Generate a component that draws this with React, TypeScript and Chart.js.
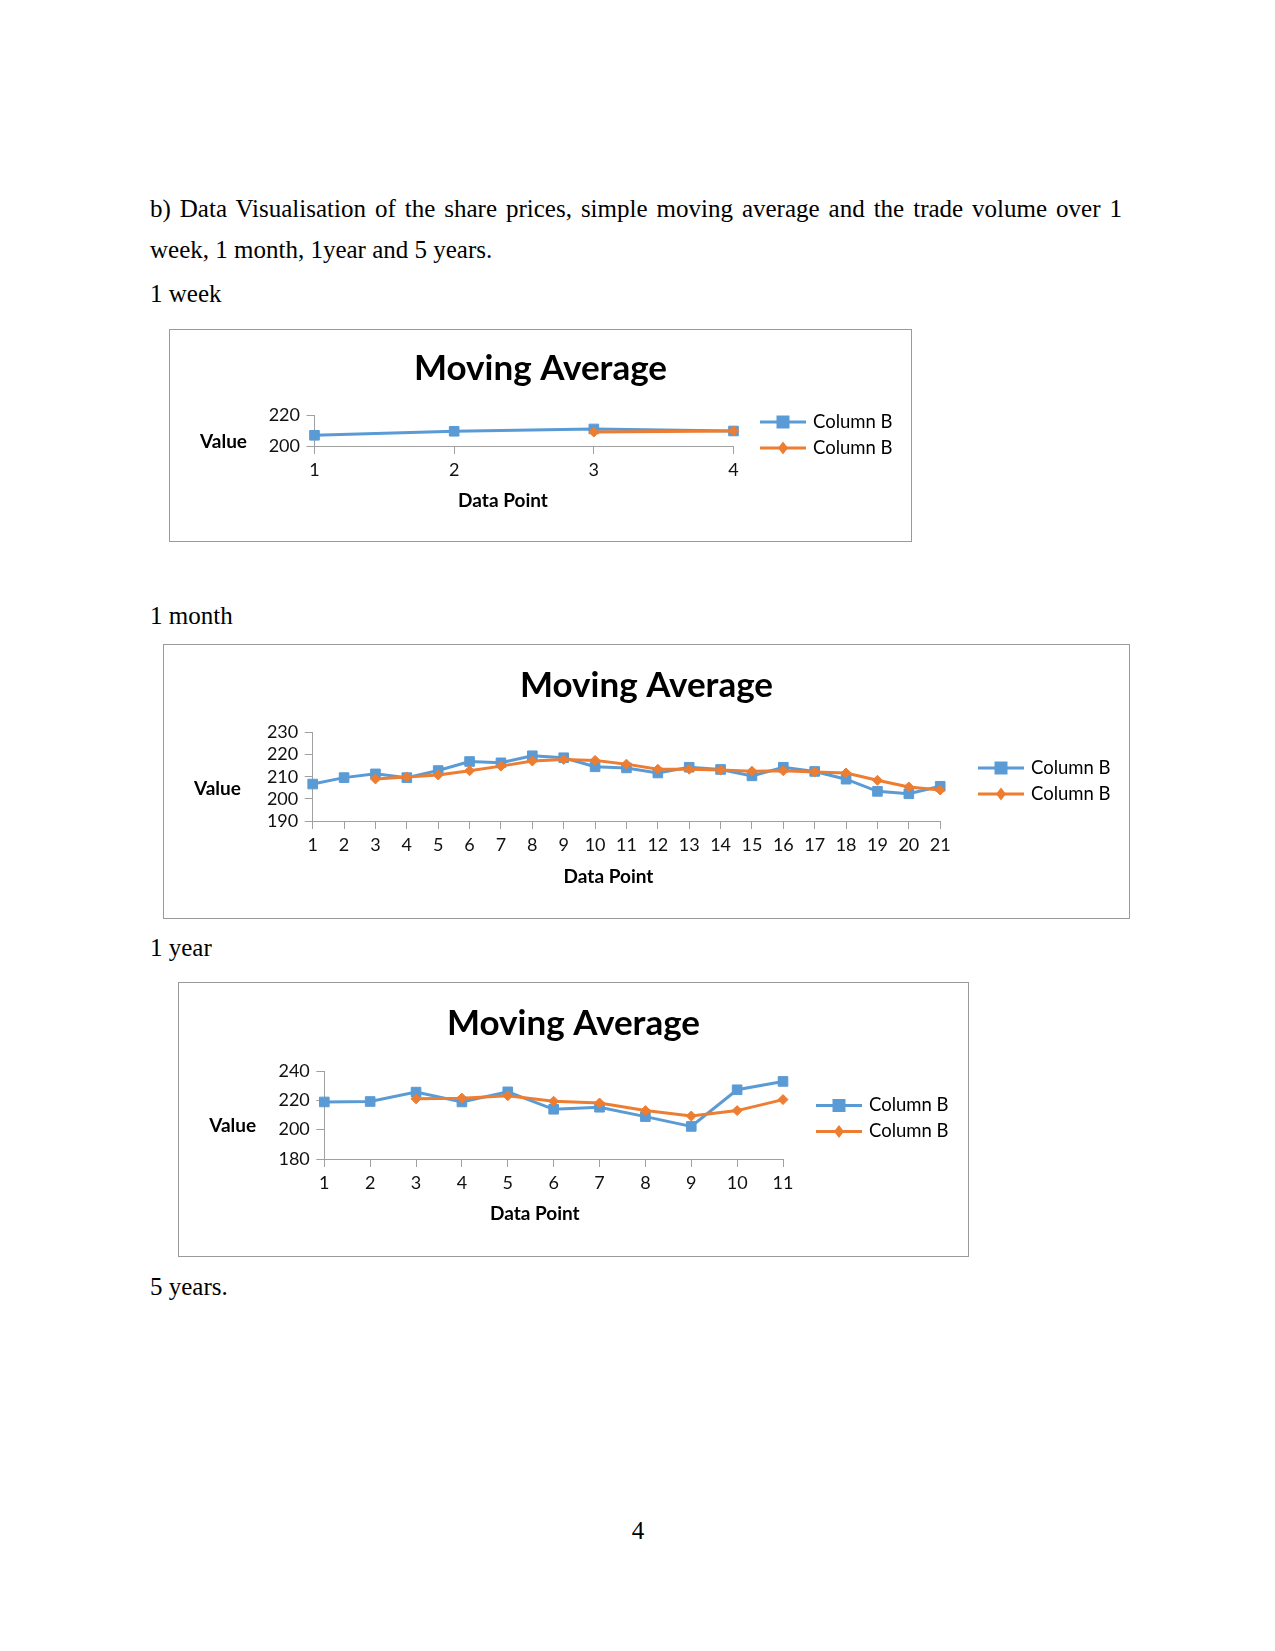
import React, { useEffect, useRef } from "react";
import { Chart, registerables } from "chart.js";

Chart.register(...registerables);

// ---------- data ----------
const seriesNames = ["Column B", "Column B"];
const chartTitle = "Moving Average";
const xAxisTitle = "Data Point";
const yAxisTitle = "Value";

const weekLabels = ["1", "2", "3", "4"];
const weekPrice = [206.9, 209.5, 211.0, 209.7];
const weekMA = [null, null, 209.0, 209.7];
const weekTicks = [200, 220];

const monthLabels = ["1", "2", "3", "4", "5", "6", "7", "8", "9", "10", "11", "12", "13", "14", "15", "16", "17", "18", "19", "20", "21"];
const monthPrice = [206.7, 209.6, 211.3, 209.6, 212.8, 216.9, 216.3, 219.5, 218.6, 214.5, 214.0, 211.7, 214.3, 213.3, 210.4, 214.3, 212.4, 208.9, 203.4, 202.3, 205.7];
const monthMA = [null, null, 209.0, 209.9, 210.8, 212.7, 214.8, 217.1, 217.8, 217.4, 215.7, 213.4, 213.4, 213.0, 212.5, 212.7, 212.2, 211.7, 208.4, 205.4, 204.0];
const monthTicks = [190, 200, 210, 220, 230];

const yearLabels = ["1", "2", "3", "4", "5", "6", "7", "8", "9", "10", "11"];
const yearPrice = [218.9, 219.2, 225.6, 218.9, 225.8, 213.9, 215.3, 208.9, 202.2, 227.2, 232.9];
const yearMA = [null, null, 221.0, 221.5, 223.1, 219.4, 218.2, 213.0, 209.3, 213.0, 220.5];
const yearTicks = [180, 200, 220, 240];

const BLUE = "#5b9bd5";
const ORANGE = "#ed7d31";
const AXIS = "#a0a0a0";
const FONT = "Lato";

type Geo = {
  left: number; top: number; w: number; h: number;
  plotLeft: number; plotRight: number; plotTop: number; plotBottom: number;
  titleY: number; valueX: number; valueY: number; dpX: number; dpY: number;
  legX: number; legY: number[];
};

const weekGeo: Geo = {
  left: 169, top: 329, w: 741, h: 211,
  plotLeft: 144.5, plotRight: 563.5, plotTop: 85, plotBottom: 116,
  titleY: 38.5, valueX: 53.5, valueY: 111.5, dpX: 333, dpY: 171,
  legX: 590, legY: [92, 118],
};
const monthGeo: Geo = {
  left: 163, top: 644, w: 965, h: 273,
  plotLeft: 148.7, plotRight: 776.2, plotTop: 87.5, plotBottom: 176,
  titleY: 40.5, valueX: 53.4, valueY: 144, dpX: 444.5, dpY: 231.7,
  legX: 814, legY: [123, 149],
};
const yearGeo: Geo = {
  left: 178, top: 982, w: 789, h: 273,
  plotLeft: 145.3, plotRight: 604, plotTop: 88, plotBottom: 176,
  titleY: 40.5, valueX: 53.7, valueY: 142.5, dpX: 355.8, dpY: 231.3,
  legX: 637, legY: [122.5, 148.5],
};

function MAChart(props: { labels: string[]; price: (number | null)[]; ma: (number | null)[]; yTicks: number[]; geo: Geo }) {
  const { labels, price, ma, yTicks, geo } = props;
  const ref = useRef<HTMLCanvasElement>(null);

  useEffect(() => {
    const canvas = ref.current!;
    const titleSize = 35;
    const lh = titleSize * 1.2;
    const padTop = geo.titleY - lh / 2;
    const padBottom = geo.plotTop - padTop - lh;

    const overlay = {
      id: "excelOverlay",
      afterDraw(chart: any) {
        const ctx: CanvasRenderingContext2D = chart.ctx;
        ctx.save();
        ctx.fillStyle = "#000";
        ctx.textBaseline = "middle";
        ctx.textAlign = "center";
        ctx.font = `bold 19px ${FONT}`;
        ctx.fillText(yAxisTitle, geo.valueX, geo.valueY);
        ctx.fillText(xAxisTitle, geo.dpX, geo.dpY);
        // legend
        [0, 1].forEach((i) => {
          const ds = chart.data.datasets[i];
          const y = geo.legY[i];
          const x0 = geo.legX;
          const x1 = geo.legX + 46;
          const cx = (x0 + x1) / 2;
          ctx.strokeStyle = ds.borderColor;
          ctx.lineWidth = 3;
          ctx.beginPath();
          ctx.moveTo(x0, y);
          ctx.lineTo(x1, y);
          ctx.stroke();
          ctx.fillStyle = ds.borderColor;
          ctx.beginPath();
          if (ds.pointStyle === "rect") {
            ctx.rect(cx - 6.5, y - 6.5, 13, 13);
          } else {
            ctx.moveTo(cx, y - 6.5);
            ctx.lineTo(cx + 5, y);
            ctx.lineTo(cx, y + 6.5);
            ctx.lineTo(cx - 5, y);
            ctx.closePath();
          }
          ctx.fill();
          ctx.fillStyle = "#000";
          ctx.textAlign = "left";
          ctx.font = `18.5px ${FONT}`;
          ctx.fillText(ds.label, geo.legX + 53, y);
        });
        ctx.restore();
      },
    };

    const chart = new Chart(canvas, {
      type: "line",
      data: {
        labels,
        datasets: [
          {
            label: seriesNames[0], data: price as any,
            borderColor: BLUE, backgroundColor: BLUE, borderWidth: 3,
            pointStyle: "rect", pointRadius: 6.8, pointBorderWidth: 1,
            pointBackgroundColor: BLUE, pointBorderColor: BLUE,
            tension: 0, order: 1,
          },
          {
            label: seriesNames[1], data: ma as any,
            borderColor: ORANGE, backgroundColor: ORANGE, borderWidth: 3,
            pointStyle: "rectRot", pointRadius: 5, pointBorderWidth: 1,
            pointBackgroundColor: ORANGE, pointBorderColor: ORANGE,
            tension: 0, order: 0,
          },
        ],
      },
      options: {
        animation: false,
        responsive: false,
        devicePixelRatio: 1,
        layout: { padding: 0 },
        plugins: {
          legend: { display: false },
          tooltip: { enabled: false },
          title: {
            display: true,
            text: chartTitle,
            color: "#000",
            font: { family: FONT, size: titleSize, weight: "bold" },
            padding: { top: padTop, bottom: padBottom },
          },
        },
        scales: {
          x: {
            type: "category",
            offset: false,
            grid: { display: true, drawOnChartArea: false, drawTicks: true, tickLength: 8, color: AXIS, offset: false },
            border: { display: true, color: AXIS, width: 1 },
            ticks: { color: "#111", font: { family: FONT, size: 18 }, padding: 5, maxRotation: 0, autoSkip: false },
            afterFit: (s: any) => { s.height = geo.h - geo.plotBottom; },
          },
          y: {
            type: "linear",
            min: yTicks[0],
            max: yTicks[yTicks.length - 1],
            afterBuildTicks: (s: any) => { s.ticks = yTicks.map((v) => ({ value: v })); },
            grid: { display: true, drawOnChartArea: false, drawTicks: true, tickLength: 8, color: AXIS },
            border: { display: true, color: AXIS, width: 1 },
            ticks: { color: "#111", font: { family: FONT, size: 18 }, padding: 6.5, autoSkip: false },
            afterFit: (s: any) => { s.width = geo.plotLeft; },
          },
          yR: {
            type: "linear",
            position: "right",
            display: true,
            grid: { display: false },
            border: { display: false },
            ticks: { display: false },
            afterFit: (s: any) => { s.width = geo.w - geo.plotRight; },
          },
        },
      } as any,
      plugins: [overlay as any],
    });
    return () => chart.destroy();
  }, []);

  return (
    <div style={{ position: "absolute", left: geo.left, top: geo.top, width: geo.w, height: geo.h, border: "1px solid #9a9a9a", background: "#fff" }}>
      <canvas ref={ref} width={geo.w} height={geo.h} style={{ display: "block", width: geo.w, height: geo.h }} />
    </div>
  );
}

const serif: React.CSSProperties = {
  position: "absolute",
  fontFamily: "'Liberation Serif', 'Times New Roman', serif",
  fontSize: 25,
  lineHeight: "24px",
  color: "#000",
  whiteSpace: "nowrap",
};

export default function App() {
  return (
    <div style={{ position: "absolute", left: 0, top: 0, width: 1275, height: 1651, background: "#fff", overflow: "hidden" }}>
      <div style={{ ...serif, left: 150, top: 197, width: 972, whiteSpace: "normal", textAlign: "justify", textAlignLast: "justify" as any }}>
        b) Data Visualisation of the share prices, simple moving average and the trade volume over 1
      </div>
      <div style={{ ...serif, left: 150, top: 238 }}>week, 1 month, 1year and 5 years.</div>
      <div style={{ ...serif, left: 150, top: 282 }}>1 week</div>
      <MAChart labels={weekLabels} price={weekPrice} ma={weekMA} yTicks={weekTicks} geo={weekGeo} />
      <div style={{ ...serif, left: 150, top: 604 }}>1 month</div>
      <MAChart labels={monthLabels} price={monthPrice} ma={monthMA} yTicks={monthTicks} geo={monthGeo} />
      <div style={{ ...serif, left: 150, top: 936 }}>1 year</div>
      <MAChart labels={yearLabels} price={yearPrice} ma={yearMA} yTicks={yearTicks} geo={yearGeo} />
      <div style={{ ...serif, left: 150, top: 1275 }}>5 years.</div>
      <div style={{ ...serif, left: 638, top: 1519, transform: "translateX(-50%)" }}>4</div>
    </div>
  );
}
